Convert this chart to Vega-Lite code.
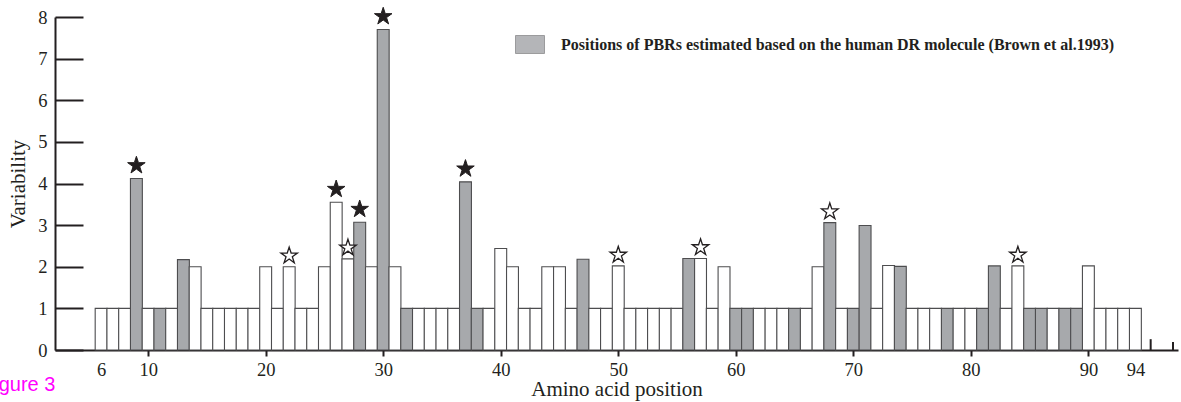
{
  "$schema": "https://vega.github.io/schema/vega-lite/v6.json",
  "width": 1123,
  "height": 333,
  "autosize": "none",
  "padding": {"left": 55, "top": 17, "right": 3, "bottom": 52},
  "background": "white",
  "config": {"view": {"stroke": null}, "font": "Liberation Serif"},
  "title": {"text": "Figure 3", "orient": "bottom", "anchor": "start", "frame": "group", "font": "Liberation Sans", "fontSize": 20, "fontWeight": "normal", "color": "#ff00ff", "baseline": "top", "dx": -73, "dy": -25, "offset": 0},
  "datasets": {
    "bars": [
      {"pos": 6, "var": 1, "group": "other"},
      {"pos": 7, "var": 1, "group": "other"},
      {"pos": 8, "var": 1, "group": "other"},
      {"pos": 9, "var": 4.12, "group": "PBR", "star": "F"},
      {"pos": 10, "var": 1, "group": "other"},
      {"pos": 11, "var": 1, "group": "PBR"},
      {"pos": 12, "var": 1, "group": "other"},
      {"pos": 13, "var": 2.17, "group": "PBR"},
      {"pos": 14, "var": 2, "group": "other"},
      {"pos": 15, "var": 1, "group": "other"},
      {"pos": 16, "var": 1, "group": "other"},
      {"pos": 17, "var": 1, "group": "other"},
      {"pos": 18, "var": 1, "group": "other"},
      {"pos": 19, "var": 1, "group": "other"},
      {"pos": 20, "var": 2, "group": "other"},
      {"pos": 21, "var": 1, "group": "other"},
      {"pos": 22, "var": 2, "group": "other", "star": "H"},
      {"pos": 23, "var": 1, "group": "other"},
      {"pos": 24, "var": 1, "group": "other"},
      {"pos": 25, "var": 2, "group": "other"},
      {"pos": 26, "var": 3.55, "group": "other", "star": "F"},
      {"pos": 27, "var": 2.19, "group": "other", "star": "H"},
      {"pos": 28, "var": 3.07, "group": "PBR", "star": "F"},
      {"pos": 29, "var": 2, "group": "other"},
      {"pos": 30, "var": 7.7, "group": "PBR", "star": "F"},
      {"pos": 31, "var": 2, "group": "other"},
      {"pos": 32, "var": 1, "group": "PBR"},
      {"pos": 33, "var": 1, "group": "other"},
      {"pos": 34, "var": 1, "group": "other"},
      {"pos": 35, "var": 1, "group": "other"},
      {"pos": 36, "var": 1, "group": "other"},
      {"pos": 37, "var": 4.04, "group": "PBR", "star": "F"},
      {"pos": 38, "var": 1, "group": "PBR"},
      {"pos": 39, "var": 1, "group": "other"},
      {"pos": 40, "var": 2.44, "group": "other"},
      {"pos": 41, "var": 2, "group": "other"},
      {"pos": 42, "var": 1, "group": "other"},
      {"pos": 43, "var": 1, "group": "other"},
      {"pos": 44, "var": 2, "group": "other"},
      {"pos": 45, "var": 2, "group": "other"},
      {"pos": 46, "var": 1, "group": "other"},
      {"pos": 47, "var": 2.18, "group": "PBR"},
      {"pos": 48, "var": 1, "group": "other"},
      {"pos": 49, "var": 1, "group": "other"},
      {"pos": 50, "var": 2.02, "group": "other", "star": "H"},
      {"pos": 51, "var": 1, "group": "other"},
      {"pos": 52, "var": 1, "group": "other"},
      {"pos": 53, "var": 1, "group": "other"},
      {"pos": 54, "var": 1, "group": "other"},
      {"pos": 55, "var": 1, "group": "other"},
      {"pos": 56, "var": 2.2, "group": "PBR"},
      {"pos": 57, "var": 2.2, "group": "other", "star": "H"},
      {"pos": 58, "var": 1, "group": "other"},
      {"pos": 59, "var": 2, "group": "other"},
      {"pos": 60, "var": 1, "group": "PBR"},
      {"pos": 61, "var": 1, "group": "PBR"},
      {"pos": 62, "var": 1, "group": "other"},
      {"pos": 63, "var": 1, "group": "other"},
      {"pos": 64, "var": 1, "group": "other"},
      {"pos": 65, "var": 1, "group": "PBR"},
      {"pos": 66, "var": 1, "group": "other"},
      {"pos": 67, "var": 2, "group": "other"},
      {"pos": 68, "var": 3.06, "group": "PBR", "star": "H"},
      {"pos": 69, "var": 1, "group": "other"},
      {"pos": 70, "var": 1, "group": "PBR"},
      {"pos": 71, "var": 2.99, "group": "PBR"},
      {"pos": 72, "var": 1, "group": "other"},
      {"pos": 73, "var": 2.03, "group": "other"},
      {"pos": 74, "var": 2.01, "group": "PBR"},
      {"pos": 75, "var": 1, "group": "other"},
      {"pos": 76, "var": 1, "group": "other"},
      {"pos": 77, "var": 1, "group": "other"},
      {"pos": 78, "var": 1, "group": "PBR"},
      {"pos": 79, "var": 1, "group": "other"},
      {"pos": 80, "var": 1, "group": "other"},
      {"pos": 81, "var": 1, "group": "PBR"},
      {"pos": 82, "var": 2.02, "group": "PBR"},
      {"pos": 83, "var": 1, "group": "other"},
      {"pos": 84, "var": 2.02, "group": "other", "star": "H"},
      {"pos": 85, "var": 1, "group": "PBR"},
      {"pos": 86, "var": 1, "group": "PBR"},
      {"pos": 87, "var": 1, "group": "other"},
      {"pos": 88, "var": 1, "group": "PBR"},
      {"pos": 89, "var": 1, "group": "PBR"},
      {"pos": 90, "var": 2.02, "group": "other"},
      {"pos": 91, "var": 1, "group": "other"},
      {"pos": 92, "var": 1, "group": "other"},
      {"pos": 93, "var": 1, "group": "other"},
      {"pos": 94, "var": 1, "group": "other"}
    ],
    "ends": [
      {"pos": 95.3, "lo": 0, "hi": 0.26},
      {"pos": 97.2, "lo": 0, "hi": 0.19}
    ]
  },
  "layer": [
    {
      "data": {"name": "bars"},
      "mark": {"type": "bar", "size": 11.9, "stroke": "#4d4d4f", "strokeWidth": 1.1},
      "encoding": {
        "x": {
          "field": "pos", "type": "quantitative",
          "scale": {"domain": [2.5, 97.2], "nice": false, "zero": false},
          "axis": {
            "values": [6, 10, 20, 30, 40, 50, 60, 70, 80, 90, 94],
            "grid": false,
            "tickSize": 6, "tickWidth": 2, "tickColor": "#231f20",
            "tickOpacity": {"condition": {"test": "datum.value == 6 || datum.value == 94", "value": 0}, "value": 1},
            "domainWidth": 2, "domainColor": "#231f20",
            "labelFont": "Liberation Serif", "labelFontSize": 18.5, "labelColor": "#231f20", "labelPadding": 4,
            "labelFlush": false, "labelOverlap": false,
            "title": "Amino acid position",
            "titleFont": "Liberation Serif", "titleFontSize": 21, "titleFontWeight": "normal", "titleColor": "#231f20", "titlePadding": 0
          }
        },
        "y": {
          "field": "var", "type": "quantitative",
          "scale": {"domain": [0, 8], "nice": false},
          "axis": {
            "values": [0, 1, 2, 3, 4, 5, 6, 7, 8],
            "grid": false,
            "tickSize": -28, "tickWidth": 2, "tickColor": "#231f20",
            "domainWidth": 2, "domainColor": "#231f20",
            "labelFont": "Liberation Serif", "labelFontSize": 18.5, "labelColor": "#231f20", "labelPadding": 36,
            "title": "Variability",
            "titleFont": "Liberation Serif", "titleFontSize": 21, "titleFontWeight": "normal", "titleColor": "#231f20",
            "titleX": -37, "titleY": 166.5, "titleAngle": -90, "titleBaseline": "middle", "titleAlign": "center"
          }
        },
        "fill": {
          "field": "group", "type": "nominal",
          "scale": {"domain": ["PBR", "other"], "range": ["#a7a9ac", "#ffffff"]},
          "legend": {
            "values": ["PBR"],
            "title": null,
            "orient": "none", "legendX": 460, "legendY": 12.5, "padding": 0,
            "symbolType": "M-1,-0.62L1,-0.62L1,0.62L-1,0.62Z",
            "symbolSize": 841,
            "symbolStrokeColor": "#8a8a8c", "symbolStrokeWidth": 1, "symbolOpacity": 0.85,
            "labelExpr": "datum.value == 'PBR' ? 'Positions of PBRs estimated based on the human DR molecule (Brown et al.1993)' : ''",
            "labelFont": "Liberation Serif", "labelFontSize": 16, "labelFontWeight": "bold", "labelColor": "#231f20",
            "labelOffset": 16, "labelLimit": 800
          }
        }
      }
    },
    {
      "data": {"name": "bars"},
      "transform": [{"filter": "datum.star == 'F'"}],
      "mark": {"type": "point", "shape": "M0,-1L0.2245,-0.309L0.951,-0.309L0.363,0.118L0.588,0.809L0,0.382L-0.588,0.809L-0.363,0.118L-0.951,-0.309L-0.2245,-0.309Z", "size": 340, "filled": true, "fill": "#231f20", "stroke": "#231f20", "strokeWidth": 1, "opacity": 1, "yOffset": -13},
      "encoding": {
        "x": {"field": "pos", "type": "quantitative"},
        "y": {"field": "var", "type": "quantitative"}
      }
    },
    {
      "data": {"name": "bars"},
      "transform": [{"filter": "datum.star == 'H'"}],
      "mark": {"type": "point", "shape": "M0,-1L0.2245,-0.309L0.951,-0.309L0.363,0.118L0.588,0.809L0,0.382L-0.588,0.809L-0.363,0.118L-0.951,-0.309L-0.2245,-0.309Z", "size": 300, "filled": true, "fill": "#ffffff", "stroke": "#231f20", "strokeWidth": 1.3, "opacity": 1, "yOffset": -11},
      "encoding": {
        "x": {"field": "pos", "type": "quantitative"},
        "y": {"field": "var", "type": "quantitative"}
      }
    },
    {
      "data": {"name": "ends"},
      "mark": {"type": "rule", "color": "#231f20", "strokeWidth": 2},
      "encoding": {
        "x": {"field": "pos", "type": "quantitative"},
        "y": {"field": "lo", "type": "quantitative"},
        "y2": {"field": "hi"}
      }
    }
  ]
}
